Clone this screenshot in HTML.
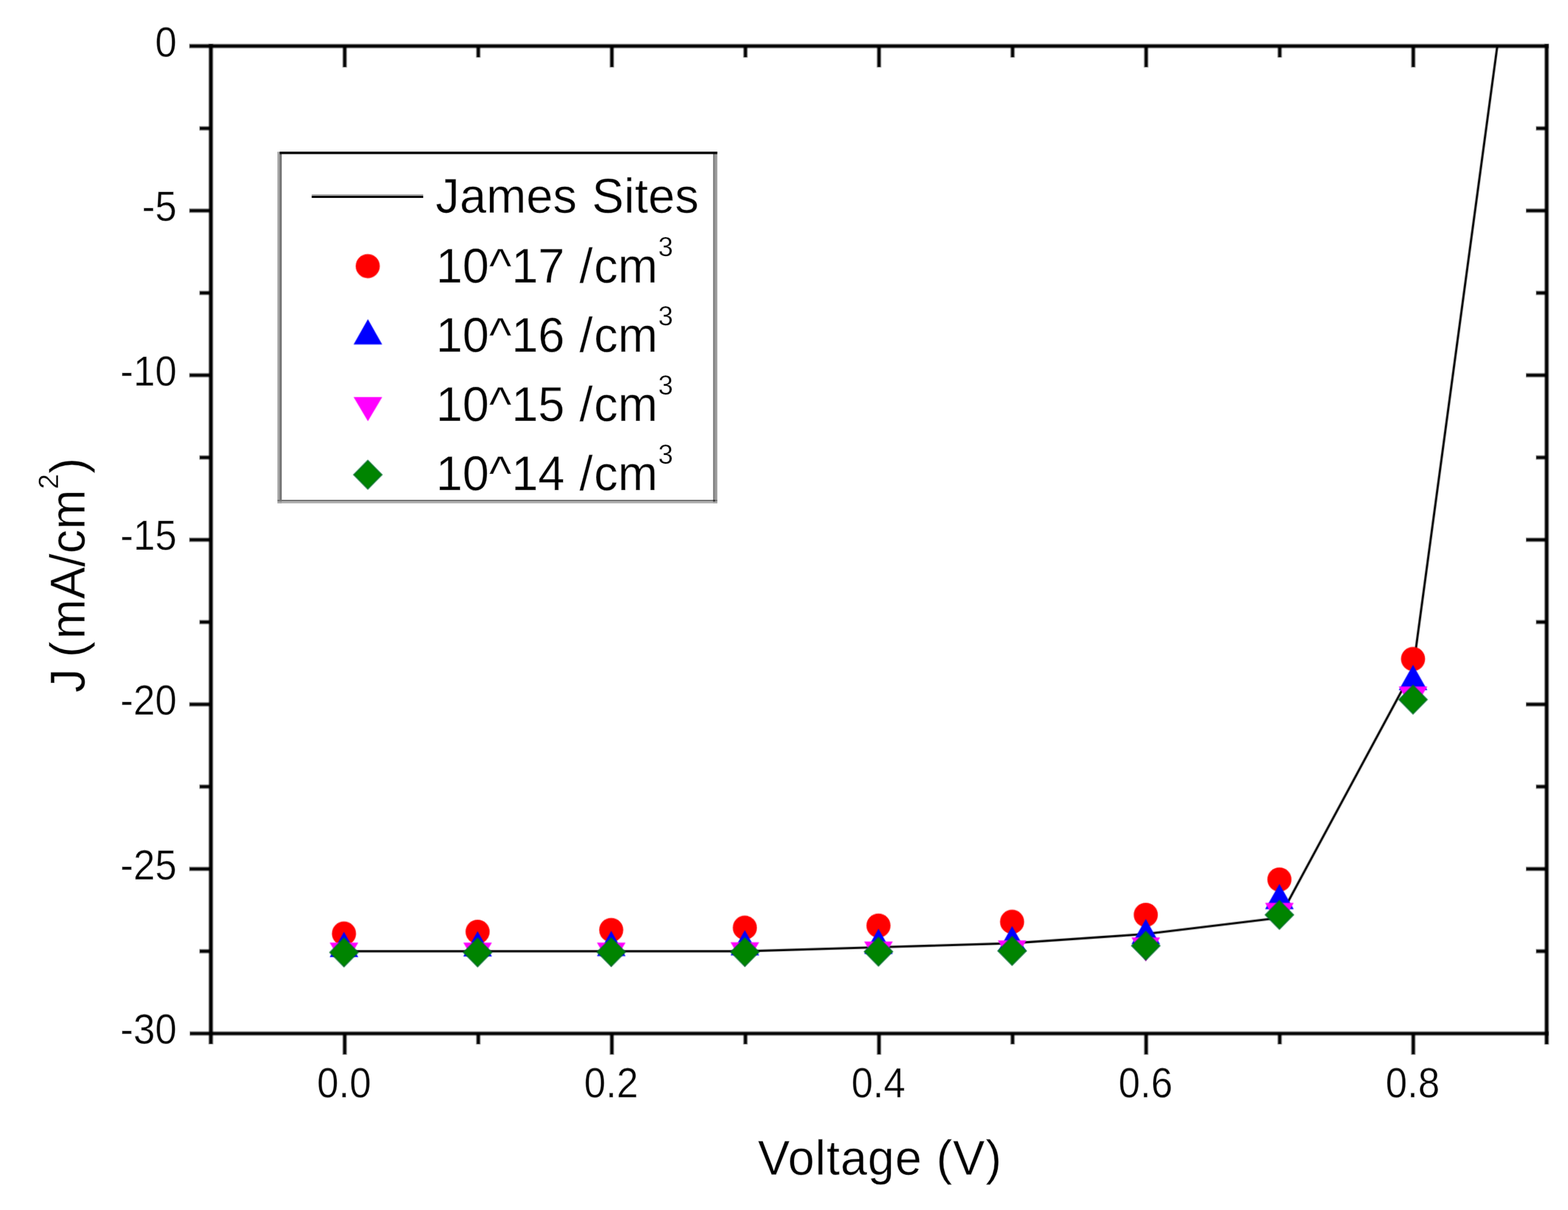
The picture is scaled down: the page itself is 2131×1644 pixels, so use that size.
<!DOCTYPE html>
<html lang="en">
<head>
<meta charset="utf-8">
<title>J-V curve</title>
<style>
html,body{margin:0;padding:0;background:#fff;}
body{width:2131px;height:1644px;}
svg{display:block;width:2131px;height:1644px;text-rendering:geometricPrecision;}
</style>
</head>
<body>
<svg width="2131" height="1644" viewBox="0 0 2131 1644" font-family="'Liberation Sans', sans-serif" fill="#000" role="img" aria-label="J-V curve: current density J (mA/cm2) versus voltage (V)">
<rect x="0" y="0" width="2131" height="1644" fill="#fff"/>
<g id="plot">
<rect x="0" y="0" width="2131" height="1644" fill="#fff"/>
<g id="data">
<g id="curve">
<polyline fill="none" stroke="#000" stroke-opacity="0.45" stroke-width="4.0" stroke-linejoin="round" points="467.5,1292.4 649.1,1292.4 830.7,1292.4 1012.3,1292.4 1193.9,1287.0 1375.5,1281.6 1557.2,1269.0 1738.8,1247.0 1920.4,910.0 2035.0,62.0"/>
<polyline fill="none" stroke="#000" stroke-width="2.2" stroke-linejoin="round" points="467.5,1292.4 649.1,1292.4 830.7,1292.4 1012.3,1292.4 1193.9,1287.0 1375.5,1281.6 1557.2,1269.0 1738.8,1247.0 1920.4,910.0 2035.0,62.0"/>
</g>
<g id="series">
<circle cx="467.5" cy="1268.4" r="15.9" fill="#ff0000" stroke="#ff0000" stroke-opacity="0.5" stroke-width="1.8" stroke-linejoin="round"/>
<circle cx="649.1" cy="1266.0" r="15.9" fill="#ff0000" stroke="#ff0000" stroke-opacity="0.5" stroke-width="1.8" stroke-linejoin="round"/>
<circle cx="830.7" cy="1263.6" r="15.9" fill="#ff0000" stroke="#ff0000" stroke-opacity="0.5" stroke-width="1.8" stroke-linejoin="round"/>
<circle cx="1012.3" cy="1260.4" r="15.9" fill="#ff0000" stroke="#ff0000" stroke-opacity="0.5" stroke-width="1.8" stroke-linejoin="round"/>
<circle cx="1193.9" cy="1257.6" r="15.9" fill="#ff0000" stroke="#ff0000" stroke-opacity="0.5" stroke-width="1.8" stroke-linejoin="round"/>
<circle cx="1375.5" cy="1252.4" r="15.9" fill="#ff0000" stroke="#ff0000" stroke-opacity="0.5" stroke-width="1.8" stroke-linejoin="round"/>
<circle cx="1557.2" cy="1243.0" r="15.9" fill="#ff0000" stroke="#ff0000" stroke-opacity="0.5" stroke-width="1.8" stroke-linejoin="round"/>
<circle cx="1738.8" cy="1195.0" r="15.9" fill="#ff0000" stroke="#ff0000" stroke-opacity="0.5" stroke-width="1.8" stroke-linejoin="round"/>
<circle cx="1920.4" cy="895.3" r="15.9" fill="#ff0000" stroke="#ff0000" stroke-opacity="0.5" stroke-width="1.8" stroke-linejoin="round"/>
<polygon points="467.5,1267.0 486.1,1299.9 448.9,1299.9" fill="#0000ff" stroke="#0000ff" stroke-opacity="0.5" stroke-width="1.8" stroke-linejoin="round"/>
<polygon points="649.1,1266.1 667.7,1299.0 630.5,1299.0" fill="#0000ff" stroke="#0000ff" stroke-opacity="0.5" stroke-width="1.8" stroke-linejoin="round"/>
<polygon points="830.7,1265.7 849.3,1298.6 812.1,1298.6" fill="#0000ff" stroke="#0000ff" stroke-opacity="0.5" stroke-width="1.8" stroke-linejoin="round"/>
<polygon points="1012.3,1264.7 1030.9,1297.6 993.7,1297.6" fill="#0000ff" stroke="#0000ff" stroke-opacity="0.5" stroke-width="1.8" stroke-linejoin="round"/>
<polygon points="1193.9,1262.7 1212.5,1295.6 1175.3,1295.6" fill="#0000ff" stroke="#0000ff" stroke-opacity="0.5" stroke-width="1.8" stroke-linejoin="round"/>
<polygon points="1375.5,1259.3 1394.1,1292.2 1357.0,1292.2" fill="#0000ff" stroke="#0000ff" stroke-opacity="0.5" stroke-width="1.8" stroke-linejoin="round"/>
<polygon points="1557.2,1249.5 1575.8,1282.4 1538.6,1282.4" fill="#0000ff" stroke="#0000ff" stroke-opacity="0.5" stroke-width="1.8" stroke-linejoin="round"/>
<polygon points="1738.8,1201.9 1757.4,1234.8 1720.2,1234.8" fill="#0000ff" stroke="#0000ff" stroke-opacity="0.5" stroke-width="1.8" stroke-linejoin="round"/>
<polygon points="1920.4,904.3 1939.0,937.2 1901.8,937.2" fill="#0000ff" stroke="#0000ff" stroke-opacity="0.5" stroke-width="1.8" stroke-linejoin="round"/>
<polygon points="467.5,1312.6 486.1,1281.2 448.9,1281.2" fill="#ff00ff" stroke="#ff00ff" stroke-opacity="0.5" stroke-width="1.8" stroke-linejoin="round"/>
<polygon points="649.1,1312.6 667.7,1281.2 630.5,1281.2" fill="#ff00ff" stroke="#ff00ff" stroke-opacity="0.5" stroke-width="1.8" stroke-linejoin="round"/>
<polygon points="830.7,1312.6 849.3,1281.2 812.1,1281.2" fill="#ff00ff" stroke="#ff00ff" stroke-opacity="0.5" stroke-width="1.8" stroke-linejoin="round"/>
<polygon points="1012.3,1312.1 1030.9,1280.7 993.7,1280.7" fill="#ff00ff" stroke="#ff00ff" stroke-opacity="0.5" stroke-width="1.8" stroke-linejoin="round"/>
<polygon points="1193.9,1311.1 1212.5,1279.7 1175.3,1279.7" fill="#ff00ff" stroke="#ff00ff" stroke-opacity="0.5" stroke-width="1.8" stroke-linejoin="round"/>
<polygon points="1375.5,1309.6 1394.1,1278.2 1357.0,1278.2" fill="#ff00ff" stroke="#ff00ff" stroke-opacity="0.5" stroke-width="1.8" stroke-linejoin="round"/>
<polygon points="1557.2,1305.6 1575.8,1274.2 1538.6,1274.2" fill="#ff00ff" stroke="#ff00ff" stroke-opacity="0.5" stroke-width="1.8" stroke-linejoin="round"/>
<polygon points="1738.8,1258.6 1757.4,1227.2 1720.2,1227.2" fill="#ff00ff" stroke="#ff00ff" stroke-opacity="0.5" stroke-width="1.8" stroke-linejoin="round"/>
<polygon points="1920.4,964.6 1939.0,933.2 1901.8,933.2" fill="#ff00ff" stroke="#ff00ff" stroke-opacity="0.5" stroke-width="1.8" stroke-linejoin="round"/>
<polygon points="467.5,1274.6 486.7,1294.0 467.5,1313.4 448.3,1294.0" fill="#008400" stroke="#006a2c" stroke-opacity="0.6" stroke-width="2.2" stroke-linejoin="round"/>
<polygon points="649.1,1274.6 668.3,1294.0 649.1,1313.4 629.9,1294.0" fill="#008400" stroke="#006a2c" stroke-opacity="0.6" stroke-width="2.2" stroke-linejoin="round"/>
<polygon points="830.7,1274.2 849.9,1293.6 830.7,1313.0 811.5,1293.6" fill="#008400" stroke="#006a2c" stroke-opacity="0.6" stroke-width="2.2" stroke-linejoin="round"/>
<polygon points="1012.3,1274.2 1031.5,1293.6 1012.3,1313.0 993.1,1293.6" fill="#008400" stroke="#006a2c" stroke-opacity="0.6" stroke-width="2.2" stroke-linejoin="round"/>
<polygon points="1193.9,1273.6 1213.1,1293.0 1193.9,1312.4 1174.7,1293.0" fill="#008400" stroke="#006a2c" stroke-opacity="0.6" stroke-width="2.2" stroke-linejoin="round"/>
<polygon points="1375.5,1272.6 1394.8,1292.0 1375.5,1311.4 1356.3,1292.0" fill="#008400" stroke="#006a2c" stroke-opacity="0.6" stroke-width="2.2" stroke-linejoin="round"/>
<polygon points="1557.2,1265.6 1576.4,1285.0 1557.2,1304.4 1538.0,1285.0" fill="#008400" stroke="#006a2c" stroke-opacity="0.6" stroke-width="2.2" stroke-linejoin="round"/>
<polygon points="1738.8,1223.6 1758.0,1243.0 1738.8,1262.4 1719.6,1243.0" fill="#008400" stroke="#006a2c" stroke-opacity="0.6" stroke-width="2.2" stroke-linejoin="round"/>
<polygon points="1920.4,931.1 1939.6,950.5 1920.4,969.9 1901.2,950.5" fill="#008400" stroke="#006a2c" stroke-opacity="0.6" stroke-width="2.2" stroke-linejoin="round"/>
</g>
</g>
<g id="axes" fill="#000">
<rect x="282.80" y="59.40" width="7.60" height="1359.60" fill-opacity="0.15"/>
<rect x="283.40" y="59.70" width="6.40" height="1359.00" fill-opacity="0.247"/>
<rect x="284.00" y="60.00" width="5.20" height="1358.40" fill-opacity="0.4375"/>
<rect x="284.60" y="60.30" width="4.00" height="1357.80" fill-opacity="0.583"/>
<rect x="285.20" y="60.60" width="2.80" height="1357.20" fill-opacity="1.0"/>
<rect x="2098.25" y="59.40" width="7.50" height="1360.00" fill-opacity="0.15"/>
<rect x="2098.85" y="59.70" width="6.30" height="1359.40" fill-opacity="0.247"/>
<rect x="2099.45" y="60.00" width="5.10" height="1358.80" fill-opacity="0.4375"/>
<rect x="2100.05" y="60.30" width="3.90" height="1358.20" fill-opacity="0.583"/>
<rect x="2100.65" y="60.60" width="2.70" height="1357.60" fill-opacity="1.0"/>
<rect x="257.00" y="58.95" width="1848.00" height="7.30" fill-opacity="0.15"/>
<rect x="257.30" y="59.55" width="1847.40" height="6.10" fill-opacity="0.247"/>
<rect x="257.60" y="60.15" width="1846.80" height="4.90" fill-opacity="0.4375"/>
<rect x="257.90" y="60.75" width="1846.20" height="3.70" fill-opacity="0.583"/>
<rect x="258.20" y="61.35" width="1845.60" height="2.50" fill-opacity="1.0"/>
<rect x="257.60" y="1400.65" width="1847.40" height="7.10" fill-opacity="0.15"/>
<rect x="257.90" y="1401.25" width="1846.80" height="5.90" fill-opacity="0.247"/>
<rect x="258.20" y="1401.85" width="1846.20" height="4.70" fill-opacity="0.4375"/>
<rect x="258.50" y="1402.45" width="1845.60" height="3.50" fill-opacity="0.583"/>
<rect x="258.80" y="1403.05" width="1845.00" height="2.30" fill-opacity="1.0"/>
<rect x="270.80" y="170.85" width="16.40" height="7.10" fill-opacity="0.15"/>
<rect x="271.10" y="171.45" width="15.80" height="5.90" fill-opacity="0.247"/>
<rect x="271.40" y="172.05" width="15.20" height="4.70" fill-opacity="0.4375"/>
<rect x="271.70" y="172.65" width="14.60" height="3.50" fill-opacity="0.583"/>
<rect x="272.00" y="173.25" width="14.00" height="2.30" fill-opacity="1.0"/>
<rect x="2087.20" y="170.85" width="15.40" height="7.10" fill-opacity="0.15"/>
<rect x="2087.50" y="171.45" width="14.80" height="5.90" fill-opacity="0.247"/>
<rect x="2087.80" y="172.05" width="14.20" height="4.70" fill-opacity="0.4375"/>
<rect x="2088.10" y="172.65" width="13.60" height="3.50" fill-opacity="0.583"/>
<rect x="2088.40" y="173.25" width="13.00" height="2.30" fill-opacity="1.0"/>
<rect x="257.00" y="282.65" width="30.20" height="7.10" fill-opacity="0.15"/>
<rect x="257.30" y="283.25" width="29.60" height="5.90" fill-opacity="0.247"/>
<rect x="257.60" y="283.85" width="29.00" height="4.70" fill-opacity="0.4375"/>
<rect x="257.90" y="284.45" width="28.40" height="3.50" fill-opacity="0.583"/>
<rect x="258.20" y="285.05" width="27.80" height="2.30" fill-opacity="1.0"/>
<rect x="2073.60" y="282.65" width="29.00" height="7.10" fill-opacity="0.15"/>
<rect x="2073.90" y="283.25" width="28.40" height="5.90" fill-opacity="0.247"/>
<rect x="2074.20" y="283.85" width="27.80" height="4.70" fill-opacity="0.4375"/>
<rect x="2074.50" y="284.45" width="27.20" height="3.50" fill-opacity="0.583"/>
<rect x="2074.80" y="285.05" width="26.60" height="2.30" fill-opacity="1.0"/>
<rect x="270.80" y="394.45" width="16.40" height="7.10" fill-opacity="0.15"/>
<rect x="271.10" y="395.05" width="15.80" height="5.90" fill-opacity="0.247"/>
<rect x="271.40" y="395.65" width="15.20" height="4.70" fill-opacity="0.4375"/>
<rect x="271.70" y="396.25" width="14.60" height="3.50" fill-opacity="0.583"/>
<rect x="272.00" y="396.85" width="14.00" height="2.30" fill-opacity="1.0"/>
<rect x="2087.20" y="394.45" width="15.40" height="7.10" fill-opacity="0.15"/>
<rect x="2087.50" y="395.05" width="14.80" height="5.90" fill-opacity="0.247"/>
<rect x="2087.80" y="395.65" width="14.20" height="4.70" fill-opacity="0.4375"/>
<rect x="2088.10" y="396.25" width="13.60" height="3.50" fill-opacity="0.583"/>
<rect x="2088.40" y="396.85" width="13.00" height="2.30" fill-opacity="1.0"/>
<rect x="257.00" y="506.25" width="30.20" height="7.10" fill-opacity="0.15"/>
<rect x="257.30" y="506.85" width="29.60" height="5.90" fill-opacity="0.247"/>
<rect x="257.60" y="507.45" width="29.00" height="4.70" fill-opacity="0.4375"/>
<rect x="257.90" y="508.05" width="28.40" height="3.50" fill-opacity="0.583"/>
<rect x="258.20" y="508.65" width="27.80" height="2.30" fill-opacity="1.0"/>
<rect x="2073.60" y="506.25" width="29.00" height="7.10" fill-opacity="0.15"/>
<rect x="2073.90" y="506.85" width="28.40" height="5.90" fill-opacity="0.247"/>
<rect x="2074.20" y="507.45" width="27.80" height="4.70" fill-opacity="0.4375"/>
<rect x="2074.50" y="508.05" width="27.20" height="3.50" fill-opacity="0.583"/>
<rect x="2074.80" y="508.65" width="26.60" height="2.30" fill-opacity="1.0"/>
<rect x="270.80" y="618.05" width="16.40" height="7.10" fill-opacity="0.15"/>
<rect x="271.10" y="618.65" width="15.80" height="5.90" fill-opacity="0.247"/>
<rect x="271.40" y="619.25" width="15.20" height="4.70" fill-opacity="0.4375"/>
<rect x="271.70" y="619.85" width="14.60" height="3.50" fill-opacity="0.583"/>
<rect x="272.00" y="620.45" width="14.00" height="2.30" fill-opacity="1.0"/>
<rect x="2087.20" y="618.05" width="15.40" height="7.10" fill-opacity="0.15"/>
<rect x="2087.50" y="618.65" width="14.80" height="5.90" fill-opacity="0.247"/>
<rect x="2087.80" y="619.25" width="14.20" height="4.70" fill-opacity="0.4375"/>
<rect x="2088.10" y="619.85" width="13.60" height="3.50" fill-opacity="0.583"/>
<rect x="2088.40" y="620.45" width="13.00" height="2.30" fill-opacity="1.0"/>
<rect x="257.00" y="729.85" width="30.20" height="7.10" fill-opacity="0.15"/>
<rect x="257.30" y="730.45" width="29.60" height="5.90" fill-opacity="0.247"/>
<rect x="257.60" y="731.05" width="29.00" height="4.70" fill-opacity="0.4375"/>
<rect x="257.90" y="731.65" width="28.40" height="3.50" fill-opacity="0.583"/>
<rect x="258.20" y="732.25" width="27.80" height="2.30" fill-opacity="1.0"/>
<rect x="2073.60" y="729.85" width="29.00" height="7.10" fill-opacity="0.15"/>
<rect x="2073.90" y="730.45" width="28.40" height="5.90" fill-opacity="0.247"/>
<rect x="2074.20" y="731.05" width="27.80" height="4.70" fill-opacity="0.4375"/>
<rect x="2074.50" y="731.65" width="27.20" height="3.50" fill-opacity="0.583"/>
<rect x="2074.80" y="732.25" width="26.60" height="2.30" fill-opacity="1.0"/>
<rect x="270.80" y="841.65" width="16.40" height="7.10" fill-opacity="0.15"/>
<rect x="271.10" y="842.25" width="15.80" height="5.90" fill-opacity="0.247"/>
<rect x="271.40" y="842.85" width="15.20" height="4.70" fill-opacity="0.4375"/>
<rect x="271.70" y="843.45" width="14.60" height="3.50" fill-opacity="0.583"/>
<rect x="272.00" y="844.05" width="14.00" height="2.30" fill-opacity="1.0"/>
<rect x="2087.20" y="841.65" width="15.40" height="7.10" fill-opacity="0.15"/>
<rect x="2087.50" y="842.25" width="14.80" height="5.90" fill-opacity="0.247"/>
<rect x="2087.80" y="842.85" width="14.20" height="4.70" fill-opacity="0.4375"/>
<rect x="2088.10" y="843.45" width="13.60" height="3.50" fill-opacity="0.583"/>
<rect x="2088.40" y="844.05" width="13.00" height="2.30" fill-opacity="1.0"/>
<rect x="257.00" y="953.45" width="30.20" height="7.10" fill-opacity="0.15"/>
<rect x="257.30" y="954.05" width="29.60" height="5.90" fill-opacity="0.247"/>
<rect x="257.60" y="954.65" width="29.00" height="4.70" fill-opacity="0.4375"/>
<rect x="257.90" y="955.25" width="28.40" height="3.50" fill-opacity="0.583"/>
<rect x="258.20" y="955.85" width="27.80" height="2.30" fill-opacity="1.0"/>
<rect x="2073.60" y="953.45" width="29.00" height="7.10" fill-opacity="0.15"/>
<rect x="2073.90" y="954.05" width="28.40" height="5.90" fill-opacity="0.247"/>
<rect x="2074.20" y="954.65" width="27.80" height="4.70" fill-opacity="0.4375"/>
<rect x="2074.50" y="955.25" width="27.20" height="3.50" fill-opacity="0.583"/>
<rect x="2074.80" y="955.85" width="26.60" height="2.30" fill-opacity="1.0"/>
<rect x="270.80" y="1065.25" width="16.40" height="7.10" fill-opacity="0.15"/>
<rect x="271.10" y="1065.85" width="15.80" height="5.90" fill-opacity="0.247"/>
<rect x="271.40" y="1066.45" width="15.20" height="4.70" fill-opacity="0.4375"/>
<rect x="271.70" y="1067.05" width="14.60" height="3.50" fill-opacity="0.583"/>
<rect x="272.00" y="1067.65" width="14.00" height="2.30" fill-opacity="1.0"/>
<rect x="2087.20" y="1065.25" width="15.40" height="7.10" fill-opacity="0.15"/>
<rect x="2087.50" y="1065.85" width="14.80" height="5.90" fill-opacity="0.247"/>
<rect x="2087.80" y="1066.45" width="14.20" height="4.70" fill-opacity="0.4375"/>
<rect x="2088.10" y="1067.05" width="13.60" height="3.50" fill-opacity="0.583"/>
<rect x="2088.40" y="1067.65" width="13.00" height="2.30" fill-opacity="1.0"/>
<rect x="257.00" y="1177.05" width="30.20" height="7.10" fill-opacity="0.15"/>
<rect x="257.30" y="1177.65" width="29.60" height="5.90" fill-opacity="0.247"/>
<rect x="257.60" y="1178.25" width="29.00" height="4.70" fill-opacity="0.4375"/>
<rect x="257.90" y="1178.85" width="28.40" height="3.50" fill-opacity="0.583"/>
<rect x="258.20" y="1179.45" width="27.80" height="2.30" fill-opacity="1.0"/>
<rect x="2073.60" y="1177.05" width="29.00" height="7.10" fill-opacity="0.15"/>
<rect x="2073.90" y="1177.65" width="28.40" height="5.90" fill-opacity="0.247"/>
<rect x="2074.20" y="1178.25" width="27.80" height="4.70" fill-opacity="0.4375"/>
<rect x="2074.50" y="1178.85" width="27.20" height="3.50" fill-opacity="0.583"/>
<rect x="2074.80" y="1179.45" width="26.60" height="2.30" fill-opacity="1.0"/>
<rect x="270.80" y="1288.85" width="16.40" height="7.10" fill-opacity="0.15"/>
<rect x="271.10" y="1289.45" width="15.80" height="5.90" fill-opacity="0.247"/>
<rect x="271.40" y="1290.05" width="15.20" height="4.70" fill-opacity="0.4375"/>
<rect x="271.70" y="1290.65" width="14.60" height="3.50" fill-opacity="0.583"/>
<rect x="272.00" y="1291.25" width="14.00" height="2.30" fill-opacity="1.0"/>
<rect x="2087.20" y="1288.85" width="15.40" height="7.10" fill-opacity="0.15"/>
<rect x="2087.50" y="1289.45" width="14.80" height="5.90" fill-opacity="0.247"/>
<rect x="2087.80" y="1290.05" width="14.20" height="4.70" fill-opacity="0.4375"/>
<rect x="2088.10" y="1290.65" width="13.60" height="3.50" fill-opacity="0.583"/>
<rect x="2088.40" y="1291.25" width="13.00" height="2.30" fill-opacity="1.0"/>
<rect x="464.90" y="1403.60" width="7.20" height="29.60" fill-opacity="0.15"/>
<rect x="465.50" y="1403.90" width="6.00" height="29.00" fill-opacity="0.247"/>
<rect x="466.10" y="1404.20" width="4.80" height="28.40" fill-opacity="0.4375"/>
<rect x="466.70" y="1404.50" width="3.60" height="27.80" fill-opacity="0.583"/>
<rect x="467.30" y="1404.80" width="2.40" height="27.20" fill-opacity="1.0"/>
<rect x="464.90" y="62.00" width="7.20" height="29.80" fill-opacity="0.15"/>
<rect x="465.50" y="62.30" width="6.00" height="29.20" fill-opacity="0.247"/>
<rect x="466.10" y="62.60" width="4.80" height="28.60" fill-opacity="0.4375"/>
<rect x="466.70" y="62.90" width="3.60" height="28.00" fill-opacity="0.583"/>
<rect x="467.30" y="63.20" width="2.40" height="27.40" fill-opacity="1.0"/>
<rect x="646.43" y="1403.60" width="7.20" height="15.60" fill-opacity="0.15"/>
<rect x="647.03" y="1403.90" width="6.00" height="15.00" fill-opacity="0.247"/>
<rect x="647.63" y="1404.20" width="4.80" height="14.40" fill-opacity="0.4375"/>
<rect x="648.23" y="1404.50" width="3.60" height="13.80" fill-opacity="0.583"/>
<rect x="648.83" y="1404.80" width="2.40" height="13.20" fill-opacity="1.0"/>
<rect x="646.43" y="62.00" width="7.20" height="16.40" fill-opacity="0.15"/>
<rect x="647.03" y="62.30" width="6.00" height="15.80" fill-opacity="0.247"/>
<rect x="647.63" y="62.60" width="4.80" height="15.20" fill-opacity="0.4375"/>
<rect x="648.23" y="62.90" width="3.60" height="14.60" fill-opacity="0.583"/>
<rect x="648.83" y="63.20" width="2.40" height="14.00" fill-opacity="1.0"/>
<rect x="827.96" y="1403.60" width="7.20" height="29.60" fill-opacity="0.15"/>
<rect x="828.56" y="1403.90" width="6.00" height="29.00" fill-opacity="0.247"/>
<rect x="829.16" y="1404.20" width="4.80" height="28.40" fill-opacity="0.4375"/>
<rect x="829.76" y="1404.50" width="3.60" height="27.80" fill-opacity="0.583"/>
<rect x="830.36" y="1404.80" width="2.40" height="27.20" fill-opacity="1.0"/>
<rect x="827.96" y="62.00" width="7.20" height="29.80" fill-opacity="0.15"/>
<rect x="828.56" y="62.30" width="6.00" height="29.20" fill-opacity="0.247"/>
<rect x="829.16" y="62.60" width="4.80" height="28.60" fill-opacity="0.4375"/>
<rect x="829.76" y="62.90" width="3.60" height="28.00" fill-opacity="0.583"/>
<rect x="830.36" y="63.20" width="2.40" height="27.40" fill-opacity="1.0"/>
<rect x="1009.49" y="1403.60" width="7.20" height="15.60" fill-opacity="0.15"/>
<rect x="1010.09" y="1403.90" width="6.00" height="15.00" fill-opacity="0.247"/>
<rect x="1010.69" y="1404.20" width="4.80" height="14.40" fill-opacity="0.4375"/>
<rect x="1011.29" y="1404.50" width="3.60" height="13.80" fill-opacity="0.583"/>
<rect x="1011.89" y="1404.80" width="2.40" height="13.20" fill-opacity="1.0"/>
<rect x="1009.49" y="62.00" width="7.20" height="16.40" fill-opacity="0.15"/>
<rect x="1010.09" y="62.30" width="6.00" height="15.80" fill-opacity="0.247"/>
<rect x="1010.69" y="62.60" width="4.80" height="15.20" fill-opacity="0.4375"/>
<rect x="1011.29" y="62.90" width="3.60" height="14.60" fill-opacity="0.583"/>
<rect x="1011.89" y="63.20" width="2.40" height="14.00" fill-opacity="1.0"/>
<rect x="1191.02" y="1403.60" width="7.20" height="29.60" fill-opacity="0.15"/>
<rect x="1191.62" y="1403.90" width="6.00" height="29.00" fill-opacity="0.247"/>
<rect x="1192.22" y="1404.20" width="4.80" height="28.40" fill-opacity="0.4375"/>
<rect x="1192.82" y="1404.50" width="3.60" height="27.80" fill-opacity="0.583"/>
<rect x="1193.42" y="1404.80" width="2.40" height="27.20" fill-opacity="1.0"/>
<rect x="1191.02" y="62.00" width="7.20" height="29.80" fill-opacity="0.15"/>
<rect x="1191.62" y="62.30" width="6.00" height="29.20" fill-opacity="0.247"/>
<rect x="1192.22" y="62.60" width="4.80" height="28.60" fill-opacity="0.4375"/>
<rect x="1192.82" y="62.90" width="3.60" height="28.00" fill-opacity="0.583"/>
<rect x="1193.42" y="63.20" width="2.40" height="27.40" fill-opacity="1.0"/>
<rect x="1372.55" y="1403.60" width="7.20" height="15.60" fill-opacity="0.15"/>
<rect x="1373.15" y="1403.90" width="6.00" height="15.00" fill-opacity="0.247"/>
<rect x="1373.75" y="1404.20" width="4.80" height="14.40" fill-opacity="0.4375"/>
<rect x="1374.35" y="1404.50" width="3.60" height="13.80" fill-opacity="0.583"/>
<rect x="1374.95" y="1404.80" width="2.40" height="13.20" fill-opacity="1.0"/>
<rect x="1372.55" y="62.00" width="7.20" height="16.40" fill-opacity="0.15"/>
<rect x="1373.15" y="62.30" width="6.00" height="15.80" fill-opacity="0.247"/>
<rect x="1373.75" y="62.60" width="4.80" height="15.20" fill-opacity="0.4375"/>
<rect x="1374.35" y="62.90" width="3.60" height="14.60" fill-opacity="0.583"/>
<rect x="1374.95" y="63.20" width="2.40" height="14.00" fill-opacity="1.0"/>
<rect x="1554.08" y="1403.60" width="7.20" height="29.60" fill-opacity="0.15"/>
<rect x="1554.68" y="1403.90" width="6.00" height="29.00" fill-opacity="0.247"/>
<rect x="1555.28" y="1404.20" width="4.80" height="28.40" fill-opacity="0.4375"/>
<rect x="1555.88" y="1404.50" width="3.60" height="27.80" fill-opacity="0.583"/>
<rect x="1556.48" y="1404.80" width="2.40" height="27.20" fill-opacity="1.0"/>
<rect x="1554.08" y="62.00" width="7.20" height="29.80" fill-opacity="0.15"/>
<rect x="1554.68" y="62.30" width="6.00" height="29.20" fill-opacity="0.247"/>
<rect x="1555.28" y="62.60" width="4.80" height="28.60" fill-opacity="0.4375"/>
<rect x="1555.88" y="62.90" width="3.60" height="28.00" fill-opacity="0.583"/>
<rect x="1556.48" y="63.20" width="2.40" height="27.40" fill-opacity="1.0"/>
<rect x="1735.61" y="1403.60" width="7.20" height="15.60" fill-opacity="0.15"/>
<rect x="1736.21" y="1403.90" width="6.00" height="15.00" fill-opacity="0.247"/>
<rect x="1736.81" y="1404.20" width="4.80" height="14.40" fill-opacity="0.4375"/>
<rect x="1737.41" y="1404.50" width="3.60" height="13.80" fill-opacity="0.583"/>
<rect x="1738.01" y="1404.80" width="2.40" height="13.20" fill-opacity="1.0"/>
<rect x="1735.61" y="62.00" width="7.20" height="16.40" fill-opacity="0.15"/>
<rect x="1736.21" y="62.30" width="6.00" height="15.80" fill-opacity="0.247"/>
<rect x="1736.81" y="62.60" width="4.80" height="15.20" fill-opacity="0.4375"/>
<rect x="1737.41" y="62.90" width="3.60" height="14.60" fill-opacity="0.583"/>
<rect x="1738.01" y="63.20" width="2.40" height="14.00" fill-opacity="1.0"/>
<rect x="1917.14" y="1403.60" width="7.20" height="29.60" fill-opacity="0.15"/>
<rect x="1917.74" y="1403.90" width="6.00" height="29.00" fill-opacity="0.247"/>
<rect x="1918.34" y="1404.20" width="4.80" height="28.40" fill-opacity="0.4375"/>
<rect x="1918.94" y="1404.50" width="3.60" height="27.80" fill-opacity="0.583"/>
<rect x="1919.54" y="1404.80" width="2.40" height="27.20" fill-opacity="1.0"/>
<rect x="1917.14" y="62.00" width="7.20" height="29.80" fill-opacity="0.15"/>
<rect x="1917.74" y="62.30" width="6.00" height="29.20" fill-opacity="0.247"/>
<rect x="1918.34" y="62.60" width="4.80" height="28.60" fill-opacity="0.4375"/>
<rect x="1918.94" y="62.90" width="3.60" height="28.00" fill-opacity="0.583"/>
<rect x="1919.54" y="63.20" width="2.40" height="27.40" fill-opacity="1.0"/>
</g>
<g id="ticklabels" stroke="#fff" stroke-opacity="0.5" stroke-width="1.1" stroke-linejoin="round">
<text transform="translate(240.20,76.60) scale(1,1.085)" font-size="53" text-anchor="end">0</text>
<text transform="translate(240.20,300.20) scale(1,1.085)" font-size="53" text-anchor="end">-5</text>
<text transform="translate(240.20,523.80) scale(1,1.085)" font-size="53" text-anchor="end">-10</text>
<text transform="translate(240.20,747.40) scale(1,1.085)" font-size="53" text-anchor="end">-15</text>
<text transform="translate(240.20,971.00) scale(1,1.085)" font-size="53" text-anchor="end">-20</text>
<text transform="translate(240.20,1194.60) scale(1,1.085)" font-size="53" text-anchor="end">-25</text>
<text transform="translate(240.20,1418.20) scale(1,1.085)" font-size="53" text-anchor="end">-30</text>
<text transform="translate(467.60,1490.80) scale(1,1.085)" font-size="53" text-anchor="middle">0.0</text>
<text transform="translate(830.66,1490.80) scale(1,1.085)" font-size="53" text-anchor="middle">0.2</text>
<text transform="translate(1193.72,1490.80) scale(1,1.085)" font-size="53" text-anchor="middle">0.4</text>
<text transform="translate(1556.78,1490.80) scale(1,1.085)" font-size="53" text-anchor="middle">0.6</text>
<text transform="translate(1919.84,1490.80) scale(1,1.085)" font-size="53" text-anchor="middle">0.8</text>
</g>
<g id="titles" stroke="#fff" stroke-opacity="0.5" stroke-width="1.0" stroke-linejoin="round">
<text transform="translate(1030.00,1596.40) scale(1,1.025)" font-size="65" text-anchor="start" letter-spacing="0.95">Voltage (V)</text>
<g transform="translate(115.0,941.0) rotate(-90)">
<text transform="scale(1,1.03)" font-size="65" letter-spacing="0.2">J<tspan dx="-3.2"> (</tspan><tspan dx="3.2">mA/cm</tspan><tspan x="276.4" dy="-34.95" font-size="37" letter-spacing="0" stroke-width="0.8">2</tspan><tspan x="297.4" dy="34.95">)</tspan></text>
</g>
</g>
<g id="legend">
<rect x="377.00" y="206.20" width="3.00" height="477.60" fill="#a6a6a6"/>
<rect x="380.00" y="206.20" width="2.90" height="477.60" fill="#767676"/>
<rect x="969.00" y="206.20" width="3.00" height="477.60" fill="#888888"/>
<rect x="972.00" y="206.20" width="2.90" height="477.60" fill="#9e9e9e"/>
<rect x="377.00" y="679.00" width="597.90" height="2.40" fill="#777777"/>
<rect x="377.00" y="681.40" width="597.90" height="2.40" fill="#aaaaaa"/>
<rect x="969.00" y="679.00" width="3.00" height="2.40" fill="#3a3a3a"/>
<rect x="380.00" y="206.00" width="594.90" height="3.40" fill="#000"/>
<rect x="423.60" y="263.90" width="151.60" height="2.20" fill="#aaaaaa"/>
<rect x="423.60" y="266.10" width="151.60" height="2.80" fill="#000"/>
<g id="legendmarks">
<circle cx="499.8" cy="361.6" r="15.9" fill="#ff0000" stroke="#ff0000" stroke-opacity="0.5" stroke-width="1.8" stroke-linejoin="round"/>
<polygon points="500.0,434.6 518.6,467.5 481.4,467.5" fill="#0000ff" stroke="#0000ff" stroke-opacity="0.5" stroke-width="1.8" stroke-linejoin="round"/>
<polygon points="500.0,571.4 518.6,540.0 481.4,540.0" fill="#ff00ff" stroke="#ff00ff" stroke-opacity="0.5" stroke-width="1.8" stroke-linejoin="round"/>
<polygon points="499.9,625.6 519.1,645.0 499.9,664.4 480.7,645.0" fill="#008400" stroke="#006a2c" stroke-opacity="0.6" stroke-width="2.2" stroke-linejoin="round"/>
</g>
<g id="legendtext" stroke="#fff" stroke-opacity="0.5" stroke-width="1.0" stroke-linejoin="round">
<text transform="translate(592.0,289.2) scale(1,1.025)" font-size="65" letter-spacing="0.15">James<tspan dx="2.2"> Sites</tspan></text>
<text transform="translate(592.4,383.8) scale(1,1.025)" font-size="65">10^17<tspan dx="2.0"> /</tspan><tspan dx="1.6">cm</tspan><tspan x="302.2" dy="-35.3" font-size="36.5" stroke-width="0.8">3</tspan></text>
<text transform="translate(592.4,477.9) scale(1,1.025)" font-size="65">10^16<tspan dx="2.0"> /</tspan><tspan dx="1.6">cm</tspan><tspan x="302.2" dy="-35.3" font-size="36.5" stroke-width="0.8">3</tspan></text>
<text transform="translate(592.4,572.0) scale(1,1.025)" font-size="65">10^15<tspan dx="2.0"> /</tspan><tspan dx="1.6">cm</tspan><tspan x="302.2" dy="-35.3" font-size="36.5" stroke-width="0.8">3</tspan></text>
<text transform="translate(592.4,666.2) scale(1,1.025)" font-size="65">10^14<tspan dx="2.0"> /</tspan><tspan dx="1.6">cm</tspan><tspan x="302.2" dy="-35.3" font-size="36.5" stroke-width="0.8">3</tspan></text>
</g>
</g>
</g>
</svg>
</body>
</html>
